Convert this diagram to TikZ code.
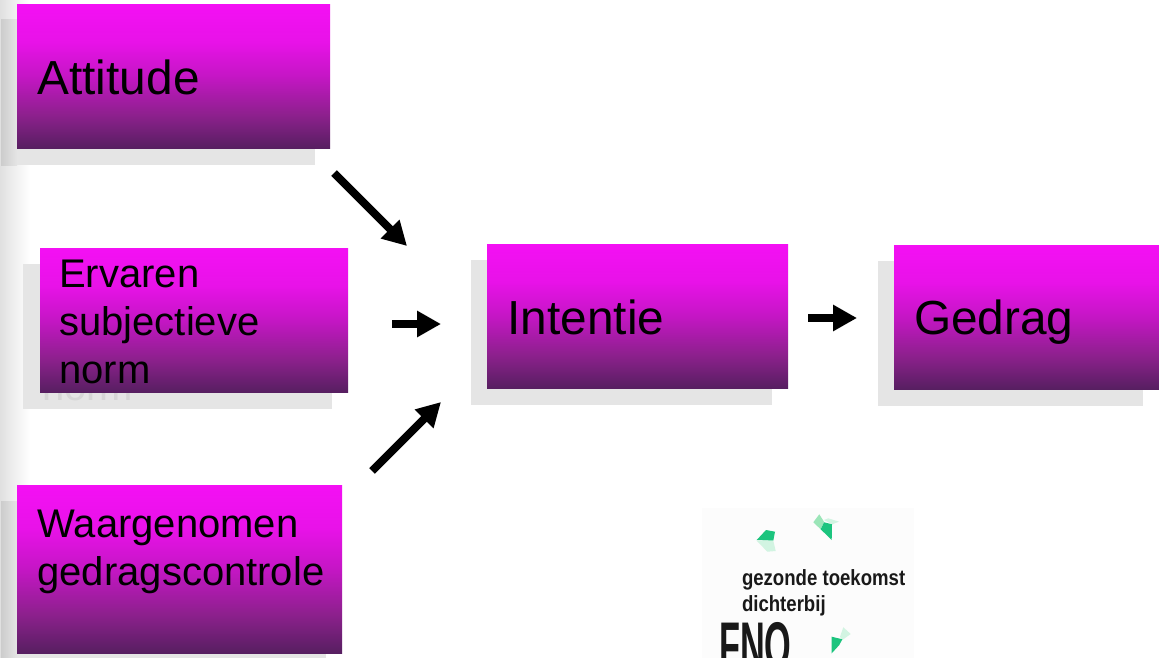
\documentclass[tikz,border=0pt]{standalone}
\usepackage{fontspec}
\setmainfont{Liberation Sans}
\newfontfamily\logofont[FakeStretch=0.845]{Liberation Sans}
\newfontfamily\fnofont[FakeStretch=0.52]{Liberation Sans}
\usetikzlibrary{arrows.meta}
\definecolor{gA}{HTML}{F410F4}
\definecolor{gB}{HTML}{E812E8}
\definecolor{gC}{HTML}{C416C4}
\definecolor{gD}{HTML}{8E208E}
\definecolor{gE}{HTML}{621F68}
\definecolor{gF}{HTML}{561F60}
\definecolor{shadowgray}{HTML}{E5E5E5}
\definecolor{logodark}{HTML}{1CC47E}
\definecolor{logomid}{HTML}{9BE5B8}
\definecolor{logopale}{HTML}{D2F4E2}
\pgfdeclareverticalshading{boxgrad}{100bp}{color(0bp)=(gF); color(25bp)=(gF); color(37bp)=(gD); color(50bp)=(gC); color(62bp)=(gB); color(75bp)=(gA); color(100bp)=(gA)}
\tikzset{
  shadowbox/.style={fill=shadowgray, draw=none},
  biglabel/.style={anchor=base west, inner sep=0pt, outer sep=0pt, text=black, font=\fontsize{47.8}{48}\selectfont},
  smalllabel/.style={anchor=base west, inner sep=0pt, outer sep=0pt, text=black, font=\fontsize{40}{48}\selectfont},
  bigarrow/.style={line width=8pt, -{Triangle[length=24pt,width=25pt]}, black},
  logotext/.style={anchor=base west, inner sep=0pt, outer sep=0pt, text=black!90, font=\logofont\bfseries\fontsize{22}{22}\selectfont}
}
\begin{document}
\begin{tikzpicture}[x=1pt,y=-1pt]
\useasboundingbox (0,0) rectangle (1159,658);
\clip (0,0) rectangle (1159,658);
\fill[white] (0,0) rectangle (1159,658);
% slide edge band
\shade[left color=black!12, right color=white] (0,0) rectangle (30,658);
% shadows
\fill[shadowbox] (1,20) rectangle (315,165);
\fill[shadowbox] (23,264) rectangle (332,409);
\fill[shadowbox] (471,260) rectangle (772,405);
\fill[shadowbox] (878,261) rectangle (1143,406);
\fill[shadowbox] (1,501) rectangle (326,658);
\shade[left color=black!20, right color=shadowgray] (1,20) rectangle (17,165);
\shade[left color=black!20, right color=shadowgray] (1,501) rectangle (17,658);
% ghost text
\node[smalllabel, text=black!16] (ghost) at (42,400) {norm};
% boxes
\path[shading=boxgrad] (17,4.3) rectangle (330,148.8);
\path[shading=boxgrad] (40,248) rectangle (348,392.7);
\path[shading=boxgrad] (487,244) rectangle (788,388.7);
\path[shading=boxgrad] (894,245) rectangle (1159,389.7);
\path[shading=boxgrad] (17,485) rectangle (342,653.7);
% labels
\node[biglabel] (attitude) at (37.5,95) {Attitude};
\node[smalllabel] (ervaren1) at (59.3,287) {Ervaren};
\node[smalllabel] (ervaren2) at (59.3,335) {subjectieve};
\node[smalllabel] (ervaren3) at (59.3,383) {norm};
\node[biglabel] (intentie) at (507.5,334) {Intentie};
\node[biglabel] (gedrag) at (914,334) {Gedrag};
\node[smalllabel] (waar1) at (37.5,537) {Waargenomen};
\node[smalllabel] (waar2) at (37.5,585) {gedragscontrole};
% arrows
\coordinate (a1s) at (334,173); \coordinate (a1e) at (407,246);
\coordinate (a2s) at (392,324); \coordinate (a2e) at (441,324);
\coordinate (a3s) at (372,471); \coordinate (a3e) at (441,402);
\coordinate (a4s) at (808,318); \coordinate (a4e) at (857,318);
\draw[bigarrow] (a1s) -- (a1e);
\draw[bigarrow] (a2s) -- (a2e);
\draw[bigarrow] (a3s) -- (a3e);
\draw[bigarrow] (a4s) -- (a4e);
% logo
\fill[black!1] (702,508) rectangle (914,658);
\fill[logodark] (756.7,540) -- (766,530) -- (775,531.7) -- (773.3,540.7) -- cycle;
\fill[logopale] (756.7,540.7) -- (773.3,540.7) -- (775.7,551) -- (767.3,551.7) -- cycle;
\fill[logomid] (813.3,522.3) -- (819.3,514.3) -- (824,521.7) -- (820.7,529.3) -- cycle;
\fill[logopale] (824,520) -- (828.3,518.3) -- (839,521.7) -- (832,524.3) -- cycle;
\fill[logodark] (820.7,529.3) -- (824,522.3) -- (832,524.3) -- (831.7,540) -- cycle;
\fill[logopale] (840,636.7) -- (843.3,627.3) -- (850.7,634) -- (842.3,640) -- cycle;
\fill[logodark] (831.7,636.7) -- (842.3,639.3) -- (839.3,645) -- (831.7,653.3) -- cycle;
\node[logotext] (logo1) at (742,585) {gezonde toekomst};
\node[logotext] (logo2) at (742,611.7) {dichterbij};
\node[anchor=base west, inner sep=0pt, text=black!90, font=\fnofont\bfseries\fontsize{66}{66}\selectfont] (fno) at (719,668) {FNO};
\end{tikzpicture}
\end{document}
